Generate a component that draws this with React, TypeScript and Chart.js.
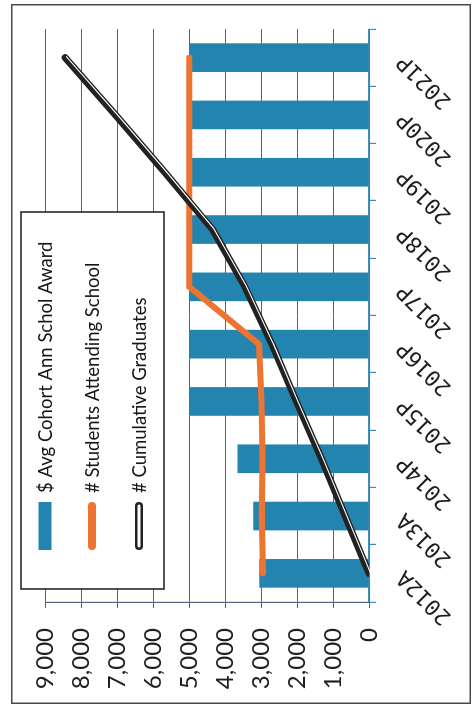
import React, { useEffect, useRef } from 'react';
import { Chart, registerables } from 'chart.js';

Chart.register(...registerables);

// Fiscal years (A = actual, P = projected)
const CATEGORIES = ['2012A', '2013A', '2014P', '2015P', '2016P', '2017P', '2018P', '2019P', '2020P', '2021P'];
// $ average cohort annual scholarship award
const AVG_AWARD = [3050, 3220, 3660, 5000, 5000, 5000, 5000, 5000, 5000, 5000];
// # students attending school
const STUDENTS = [2950, 2980, 2960, 2990, 3060, 5000, 5000, 5000, 5000, 5000];
// # cumulative graduates
const GRADUATES = [0, 660, 1320, 2020, 2700, 3450, 4350, 5680, 7050, 8450];

const SERIES_LABELS = [
  '$ Avg Cohort Ann Schol Award',
  '# Students Attending School',
  '# Cumulative Graduates',
];

const VALUE_MAX = 9000;
const VALUE_STEP = 1000;

// Canvas is laid out landscape and turned a quarter turn on the page.
const W = 700;
const H = 460;

const BAR_BLUE = '#2484b0';
const ORANGE = '#ee7432';
const BLACK = '#222222';
const GRID = '#52657c';
const AXIS_BLUE = '#3d8fc2';

// Offsets the white highlight stripe of the graduates line to one side.
const stripeShift = {
  id: 'stripeShift',
  beforeDatasetDraw(chart: any, args: any) {
    const ds = chart.data.datasets[args.index];
    if (ds && ds.stripe) {
      chart.ctx.save();
      chart.ctx.translate(1, 1.2);
    }
  },
  afterDatasetDraw(chart: any, args: any) {
    const ds = chart.data.datasets[args.index];
    if (ds && ds.stripe) chart.ctx.restore();
  },
};

// Boxed legend inside the plot, plus the outer frame.
const boxLegend = {
  id: 'boxLegend',
  afterDraw(chart: any) {
    const ctx = chart.ctx;
    const box = { l: 115, t: 10, r: 492, b: 153 };
    ctx.save();
    ctx.fillStyle = '#ffffff';
    ctx.fillRect(box.l, box.t, box.r - box.l, box.b - box.t);
    ctx.strokeStyle = '#1a1a1a';
    ctx.lineWidth = 1.5;
    ctx.strokeRect(box.l, box.t, box.r - box.l, box.b - box.t);

    const rows = [34, 81, 128];
    const symL = 154;
    const symR = 202;
    const textX = 211;
    ctx.font = '18.5px Lato';
    ctx.textBaseline = 'middle';
    ctx.textAlign = 'left';
    for (let i = 0; i < 3; i++) {
      const ds = chart.data.datasets[i];
      const y = rows[i];
      if (ds.type === 'bar') {
        ctx.fillStyle = ds.backgroundColor;
        ctx.fillRect(symL, y - 6.5, symR - symL, 13);
      } else if (ds.outlined) {
        ctx.lineCap = 'round';
        ctx.strokeStyle = ds.borderColor;
        ctx.lineWidth = 8;
        ctx.beginPath();
        ctx.moveTo(symL + 4, y);
        ctx.lineTo(symR - 4, y);
        ctx.stroke();
        ctx.strokeStyle = '#ffffff';
        ctx.lineWidth = 3;
        ctx.beginPath();
        ctx.moveTo(symL + 4, y);
        ctx.lineTo(symR - 4, y);
        ctx.stroke();
      } else {
        ctx.lineCap = 'round';
        ctx.strokeStyle = ds.borderColor;
        ctx.lineWidth = 8;
        ctx.beginPath();
        ctx.moveTo(symL + 4, y);
        ctx.lineTo(symR - 4, y);
        ctx.stroke();
      }
      ctx.fillStyle = '#161616';
      ctx.fillText(ds.label, textX, y + 1);
    }

    ctx.strokeStyle = '#4a4a4a';
    ctx.lineWidth = 1.5;
    ctx.strokeRect(0.75, 0.75, W - 1.5, H - 1.5);
    ctx.restore();
  },
};

export default function App() {
  const canvasRef = useRef<HTMLCanvasElement | null>(null);

  useEffect(() => {
    const canvas = canvasRef.current;
    if (!canvas) return;
    const chart = new Chart(canvas, {
      type: 'bar',
      data: {
        labels: CATEGORIES,
        datasets: [
          {
            type: 'bar',
            label: SERIES_LABELS[0],
            data: AVG_AWARD,
            backgroundColor: BAR_BLUE,
            borderWidth: 0,
            categoryPercentage: 1,
            barPercentage: 0.5,
            order: 4,
          } as any,
          {
            type: 'line',
            label: SERIES_LABELS[1],
            data: STUDENTS,
            borderColor: ORANGE,
            borderWidth: 6,
            borderCapStyle: 'round',
            borderJoinStyle: 'miter',
            pointRadius: 0,
            fill: false,
            tension: 0,
            order: 3,
          } as any,
          {
            type: 'line',
            label: SERIES_LABELS[2],
            data: GRADUATES,
            borderColor: BLACK,
            borderWidth: 7,
            borderCapStyle: 'round',
            borderJoinStyle: 'round',
            pointRadius: 0,
            fill: false,
            tension: 0,
            outlined: true,
            order: 2,
          } as any,
          {
            type: 'line',
            label: '',
            data: GRADUATES,
            borderColor: '#ffffff',
            borderWidth: 1.1,
            borderCapStyle: 'round',
            borderJoinStyle: 'round',
            pointRadius: 0,
            fill: false,
            tension: 0,
            stripe: true,
            order: 1,
          } as any,
        ],
      },
      options: {
        responsive: false,
        animation: false,
        devicePixelRatio: 1,
        layout: { padding: { top: 29, right: 25, left: 0, bottom: 0 } },
        plugins: {
          legend: { display: false },
          tooltip: { enabled: false },
          title: { display: false },
        },
        scales: {
          x: {
            grid: {
              display: true,
              drawOnChartArea: false,
              drawTicks: true,
              tickLength: 7,
              color: AXIS_BLUE,
              lineWidth: 1.2,
              offset: true,
            },
            border: { display: true, color: AXIS_BLUE, width: 1.5 },
            ticks: {
              autoSkip: false,
              minRotation: 45,
              maxRotation: 45,
              padding: 16,
              color: '#1e1e1e',
              font: { family: 'DejaVu Sans Mono', size: 22 },
            },
            afterFit: (s: any) => {
              s.height = 102;
            },
          },
          y: {
            min: 0,
            max: VALUE_MAX,
            grid: { color: GRID, lineWidth: 1, tickLength: 6 },
            border: { display: true, color: GRID, width: 1.2 },
            ticks: {
              stepSize: VALUE_STEP,
              padding: 20,
              color: '#1e1e1e',
              font: { family: 'Lato', size: 24 },
              callback: (v: any) => Number(v).toLocaleString('en-US'),
            },
            afterFit: (s: any) => {
              s.width = 102;
            },
          },
        },
      } as any,
      plugins: [stripeShift, boxLegend],
    });
    return () => chart.destroy();
  }, []);

  return (
    <div
      style={{
        position: 'fixed',
        left: 11,
        top: 4,
        width: H,
        height: W,
        background: '#ffffff',
      }}
    >
      <canvas
        ref={canvasRef}
        width={W}
        height={H}
        style={{
          position: 'absolute',
          left: 0,
          top: 0,
          width: W,
          height: H,
          transformOrigin: '0 0',
          transform: `translate(0px, ${W}px) rotate(-90deg)`,
        }}
      />
    </div>
  );
}
